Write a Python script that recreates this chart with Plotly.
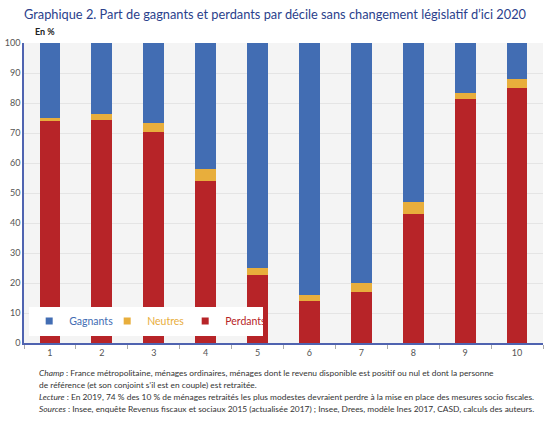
import plotly.graph_objects as go

deciles = ["1", "2", "3", "4", "5", "6", "7", "8", "9", "10"]
perdants = [74, 74.3, 70.4, 54, 22.8, 14, 17, 43, 81.2, 85]
neutres = [1, 1.9, 2.8, 4, 2.1, 1.9, 3, 3.9, 2, 3]
gagnants = [25, 23.8, 26.8, 42, 75.1, 84.1, 80, 53.1, 16.8, 12]

C_BLUE = "#426db3"
C_ORANGE = "#e8ae3c"
C_RED = "#b72428"
FONT = "Lato"

fig = go.Figure()
series = [("Perdants", perdants, C_RED), ("Neutres", neutres, C_ORANGE), ("Gagnants", gagnants, C_BLUE)]
for name, vals, col in series:
    fig.add_trace(go.Bar(
        x=deciles, y=vals, marker=dict(color=col, line=dict(width=0)),
        name=name, width=0.4, showlegend=False,
    ))
# legend entries (small square markers)
for name, vals, col in reversed(series):
    fig.add_trace(go.Scatter(
        x=[None], y=[None], mode="markers",
        marker=dict(symbol="square", size=7, color=col),
        name=f"<span style='color:{col}'>{name}</span>",
    ))

fig.update_layout(
    barmode="stack",
    width=550, height=423,
    margin=dict(l=24, r=7, t=43, b=80, autoexpand=False),
    paper_bgcolor="white",
    plot_bgcolor="#f4f4f4",
    font=dict(family=FONT, size=9, color="#555555"),
    showlegend=True,
    legend=dict(
        orientation="h", traceorder="normal",
        x=0.01, y=0.073, xanchor="left", yanchor="middle",
        bgcolor="white", font=dict(size=10.5, family=FONT),
        itemwidth=30, entrywidth=33, entrywidthmode="pixels",
    ),
    xaxis=dict(
        showline=True, linecolor="#4f63b0", linewidth=1.5,
        ticks="outside", tickson="boundaries", ticklen=4, tickcolor="#aaaaaa",
        tickfont=dict(size=9, color="#555555"),
        showgrid=False, automargin=False,
    ),
    yaxis=dict(
        range=[0, 100], dtick=10,
        showline=True, linecolor="#4f63b0", linewidth=1.5,
        showgrid=True, gridcolor="#e4e4e4", gridwidth=1,
        tickfont=dict(size=9, color="#555555"),
        ticks="", zeroline=False, automargin=False,
    ),
)

fig.add_annotation(
    text="Graphique 2. Part de gagnants et perdants par décile sans changement législatif d’ici 2020",
    xref="paper", yref="paper", x=-0.004, y=1.097, xanchor="left", yanchor="middle",
    showarrow=False, font=dict(size=12.8, color="#2b3f8c", family=FONT),
)
fig.add_annotation(
    text="<b>En %</b>", xref="paper", yref="paper", x=0.017, y=1.037,
    xanchor="left", yanchor="middle", showarrow=False,
    font=dict(size=9, color="#222222", family=FONT),
)

notes = [
    "<i>Champ</i> : France métropolitaine, ménages ordinaires, ménages dont le revenu disponible est positif ou nul et dont la personne",
    "de référence (et son conjoint s’il est en couple) est retraitée.",
    "<i>Lecture</i> : En 2019, 74 % des 10 % de ménages retraités les plus modestes devraient perdre à la mise en place des mesures socio fiscales.",
    "<i>Sources</i> : Insee, enquête Revenus fiscaux et sociaux 2015 (actualisée 2017) ; Insee, Drees, modèle Ines 2017, CASD, calculs des auteurs.",
]
for i, t in enumerate(notes):
    fig.add_annotation(
        text=t, xref="paper", yref="paper", x=0.025, y=-0.10 - i * 0.04,
        xanchor="left", yanchor="middle", showarrow=False,
        font=dict(size=8.4, color="#333333", family=FONT),
    )

fig.write_html("out.html", config={"displayModeBar": False},
               post_script="document.body.style.margin='0';")
